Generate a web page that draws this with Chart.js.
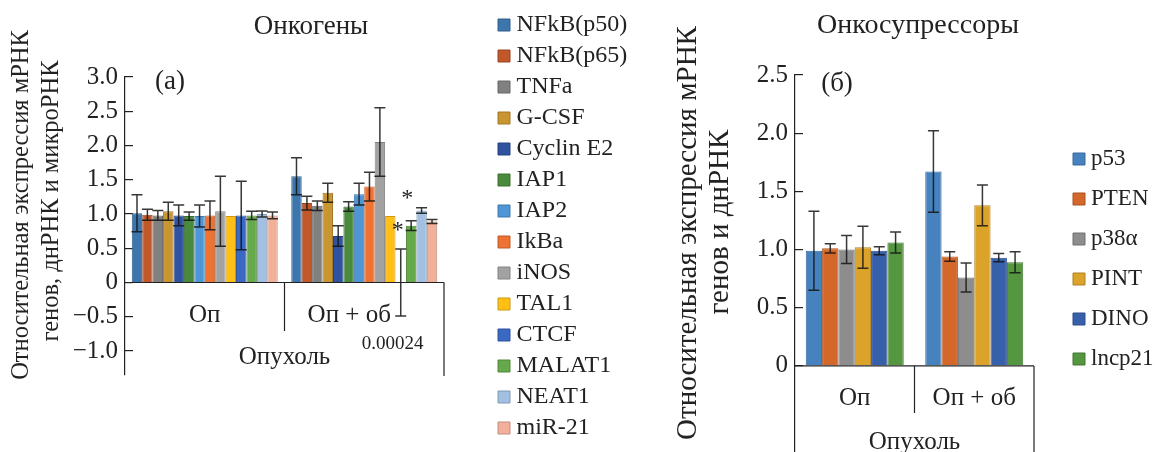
<!DOCTYPE html>
<html>
<head>
<meta charset="utf-8">
<script src="https://cdn.jsdelivr.net/npm/chart.js@4.4.1/dist/chart.umd.min.js"></script>
<style>
    html, body { margin: 0; padding: 0; background: #fff; }
    #wrap { position: relative; width: 1155px; height: 452px; overflow: hidden; }
    #left { position: absolute; left: 0; top: 0; }
    #right { position: absolute; left: 660px; top: 0; }
</style>
</head>
<body>
<div id="wrap">
    <canvas id="left" width="660" height="452"></canvas>
    <canvas id="right" width="495" height="452"></canvas>
</div>
<script>
const groups = ['Оп', 'Оп + об'];

// (а) Онкогены
const oncoNames = ['NFkB(p50)', 'NFkB(p65)', 'TNFa', 'G-CSF', 'Cyclin E2', 'IAP1', 'IAP2',
    'IkBa', 'iNOS', 'TAL1', 'CTCF', 'MALAT1', 'NEAT1', 'miR-21'];
const oncoColors = ['#3c76ad', '#c0582a', '#808080', '#c99530', '#2f53a0', '#4a8a3c', '#4f96d6',
    '#ee7232', '#a2a2a2', '#ffbf14', '#3a68c2', '#65a94a', '#a3c0e2', '#f2b09b'];
const oncoOp = [1.01, 0.99, 0.98, 1.04, 0.98, 0.97, 0.97, 0.98, 1.04, 0.97, 0.98, 0.98, 1.00, 0.98];
const oncoOpErr = [0.27, 0.08, 0.07, 0.13, 0.15, 0.06, 0.16, 0.21, 0.51, 0, 0.50, 0.06, 0.045, 0.05];
const oncoOpOb = [1.55, 1.16, 1.12, 1.31, 0.68, 1.11, 1.29, 1.40, 2.05, 0.97, 0.00024, 0.83, 1.05, 0.89];
const oncoOpObErr = [0.27, 0.10, 0.07, 0.14, 0.15, 0.07, 0.16, 0.21, 0.50, 0, 0.49, 0.07, 0.04, 0.03];
const oncoTicks = [-1, -0.5, 0, 0.5, 1, 1.5, 2, 2.5, 3];

// (б) Онкосупрессоры
const suppNames = ['p53', 'PTEN', 'p38α', 'PINT', 'DINO', 'lncp21'];
const suppColors = ['#4682be', '#d4682a', '#8d8d8d', '#dca32b', '#3760ab', '#559640'];
const suppOp = [0.99, 1.01, 1.00, 1.02, 0.99, 1.06];
const suppOpErr = [0.34, 0.04, 0.12, 0.18, 0.035, 0.09];
const suppOpOb = [1.67, 0.94, 0.76, 1.38, 0.93, 0.89];
const suppOpObErr = [0.35, 0.04, 0.125, 0.175, 0.035, 0.09];
const suppTicks = [0, 0.5, 1, 1.5, 2, 2.5];

const SERIF = "'Liberation Serif', 'Times New Roman', serif";
Chart.defaults.font.family = SERIF;
Chart.defaults.color = '#222';

function shade(hex, f) {
    const n = parseInt(hex.slice(1), 16);
    const c = [n >> 16, (n >> 8) & 255, n & 255].map(v => Math.max(0, Math.min(255, Math.round(v * (1 + f)))));
    return 'rgb(' + c.join(',') + ')';
}

function fmtTick(v) {
    if (v === 0) return '0';
    return (v < 0 ? '−' : '') + Math.abs(v).toFixed(1);
}

function makeDatasets(names, colors, a, aErr, b, bErr, catPct) {
    return names.map((name, i) => ({
        label: name,
        data: [a[i], b[i]],
        errors: [aErr[i], bErr[i]],
        backgroundColor: colors[i],
        borderColor: shade(colors[i], -0.2),
        borderWidth: 1,
        barPercentage: 1,
        categoryPercentage: catPct
    }));
}

// error bars drawn on top of the bars
const errorBars = {
    id: 'errorBars',
    afterDatasetsDraw(chart) {
        const ctx = chart.ctx, y = chart.scales.y;
        ctx.save();
        ctx.strokeStyle = 'rgba(20,20,20,0.85)';
        ctx.lineWidth = 1.5;
        chart.data.datasets.forEach((ds, i) => {
            chart.getDatasetMeta(i).data.forEach((bar, j) => {
                const e = ds.errors[j];
                if (!e) return;
                const top = y.getPixelForValue(ds.data[j] + e);
                const bot = y.getPixelForValue(ds.data[j] - e);
                const cap = 5.5;
                ctx.beginPath();
                ctx.moveTo(bar.x, top); ctx.lineTo(bar.x, bot);
                ctx.moveTo(bar.x - cap, top); ctx.lineTo(bar.x + cap, top);
                ctx.moveTo(bar.x - cap, bot); ctx.lineTo(bar.x + cap, bot);
                ctx.stroke();
            });
        });
        ctx.restore();
    }
};

// move the legend next to the plot (and widen its clip box)
const legendPlace = {
    id: 'legendPlace',
    beforeDraw(chart, args, o) {
        const lg = chart.legend;
        lg.left = o.left;
        lg.top = o.top;
        lg.right = chart.width;
        lg.bottom = chart.height;
    }
};

// category box, group labels, axis title, notes
const decor = {
    id: 'decor',
    afterDraw(chart, args, o) {
        const ctx = chart.ctx, a = chart.chartArea;
        const x = chart.scales.x, y = chart.scales.y;
        const y0 = y.getPixelForValue(0);
        const mid = x.getPixelForValue(0.5);
        ctx.save();
        ctx.strokeStyle = '#222';
        ctx.lineWidth = 1.2;
        ctx.beginPath();
        ctx.moveTo(a.left, y0); ctx.lineTo(a.right, y0);
        ctx.moveTo(mid, y0); ctx.lineTo(mid, o.sepBottom);
        ctx.moveTo(a.right, y0); ctx.lineTo(a.right, o.boxBottom);
        ctx.stroke();

        ctx.fillStyle = '#222';
        ctx.textAlign = 'center';
        ctx.textBaseline = 'middle';
        ctx.font = o.labelSize + 'px ' + SERIF;
        chart.data.labels.forEach((lab, i) => {
            ctx.fillText(lab, x.getPixelForValue(i) + o.groupDx[i], o.groupY);
        });
        ctx.fillText(o.outer, (a.left + a.right) / 2, o.outerY);

        ctx.font = o.panelSize + 'px ' + SERIF;
        ctx.fillText(o.panel, o.panelX, o.panelY);

        (o.notes || []).forEach(n => {
            const bar = chart.getDatasetMeta(n.ds).data[n.cat];
            ctx.font = n.size + 'px ' + SERIF;
            ctx.fillText(n.text, bar.x + n.dx, y.getPixelForValue(n.value));
        });

        ctx.font = o.titleSize + 'px ' + SERIF;
        o.title.forEach((line, i) => {
            ctx.save();
            ctx.translate(o.titleX[i], o.titleY[i]);
            ctx.rotate(-Math.PI / 2);
            ctx.fillText(line, 0, 0);
            ctx.restore();
        });
        ctx.restore();
    }
};

const tickFont = { size: 25, family: SERIF };

new Chart(document.getElementById('left').getContext('2d'), {
    type: 'bar',
    data: {
        labels: groups,
        datasets: makeDatasets(oncoNames, oncoColors, oncoOp, oncoOpErr, oncoOpOb, oncoOpObErr, 0.915)
    },
    plugins: [errorBars, legendPlace, decor],
    options: {
        responsive: false,
        animation: false,
        layout: { padding: { left: 38, right: 76, top: 0, bottom: 0 } },
        scales: {
            x: {
                display: true,
                grid: { display: false },
                border: { display: false },
                ticks: { display: false },
                afterFit: s => { s.height = 77; s.paddingLeft = 0; s.paddingRight = 0; }
            },
            y: {
                min: -1.35,
                max: 3,
                afterBuildTicks: s => { s.ticks = oncoTicks.map(v => ({ value: v })); },
                afterFit: s => { s.width = 87; s.paddingTop = 0; s.paddingBottom = 0; },
                ticks: { padding: 15, font: tickFont, color: '#222', callback: fmtTick },
                grid: { drawOnChartArea: false, drawTicks: true, tickLength: -8, color: '#222', lineWidth: 1.2 },
                border: { display: true, color: '#222', width: 1.2 }
            }
        },
        plugins: {
            tooltip: { enabled: false },
            title: {
                display: true,
                text: 'Онкогены',
                color: '#222',
                font: { size: 27, weight: 'normal', lineHeight: 1.2, family: SERIF },
                padding: { top: 11, bottom: 33.6 }
            },
            legend: {
                position: 'right',
                align: 'start',
                maxWidth: 140,
                labels: {
                    usePointStyle: true, pointStyle: 'rect',
                    boxWidth: 1, boxHeight: 12, padding: 7,
                    color: '#222', font: { size: 24, family: SERIF }
                }
            },
            legendPlace: { left: 496.5, top: 6 },
            decor: {
                sepBottom: 331, boxBottom: 376,
                labelSize: 25, groupY: 315, groupDx: [0, -15],
                outer: 'Опухоль', outerY: 357,
                panel: '(а)', panelSize: 27, panelX: 170, panelY: 82,
                notes: [
                    { text: '*', ds: 10, cat: 1, dx: -3, value: 0.76, size: 24 },
                    { text: '*', ds: 11, cat: 1, dx: -4, value: 1.23, size: 24 },
                    { text: '0.00024', ds: 10, cat: 1, dx: -8, value: -0.9, size: 19 }
                ],
                title: ['Относительная экспрессия мРНК', 'генов, днРНК и микроРНК'],
                titleSize: 24.5, titleX: [22, 52], titleY: [205, 201]
            }
        }
    }
});

new Chart(document.getElementById('right').getContext('2d'), {
    type: 'bar',
    data: {
        labels: groups,
        datasets: makeDatasets(suppNames, suppColors, suppOp, suppOpErr, suppOpOb, suppOpObErr, 0.82)
    },
    plugins: [errorBars, legendPlace, decor],
    options: {
        responsive: false,
        animation: false,
        layout: { padding: { left: 42, right: 21, top: 0, bottom: 0 } },
        scales: {
            x: { display: false },
            y: {
                min: -0.74,
                max: 2.5,
                afterBuildTicks: s => { s.ticks = suppTicks.map(v => ({ value: v })); },
                afterFit: s => { s.width = 93; s.paddingTop = 0; s.paddingBottom = 0; },
                ticks: { padding: 15, font: tickFont, color: '#222', callback: fmtTick },
                grid: { drawOnChartArea: false, drawTicks: true, tickLength: -8, color: '#222', lineWidth: 1.2 },
                border: { display: true, color: '#222', width: 1.2 }
            }
        },
        plugins: {
            tooltip: { enabled: false },
            title: {
                display: true,
                text: 'Онкосупрессоры',
                color: '#222',
                font: { size: 28, weight: 'normal', lineHeight: 1.2, family: SERIF },
                padding: { top: 9.2, bottom: 32.2 }
            },
            legend: {
                position: 'right',
                align: 'start',
                maxWidth: 100,
                labels: {
                    usePointStyle: true, pointStyle: 'rect',
                    boxWidth: 1, boxHeight: 12, padding: 17,
                    color: '#222', font: { size: 23, family: SERIF }
                }
            },
            legendPlace: { left: 401.5, top: 130.5 },
            decor: {
                sepBottom: 413, boxBottom: 452,
                labelSize: 25, groupY: 398, groupDx: [0, 0],
                outer: 'Опухоль', outerY: 442,
                panel: '(б)', panelSize: 27, panelX: 177, panelY: 84,
                notes: [],
                title: ['Относительная экспрессия мРНК', 'генов и днРНК'],
                titleSize: 29, titleX: [28, 60], titleY: [233, 222]
            }
        }
    }
});
</script>
</body>
</html>
